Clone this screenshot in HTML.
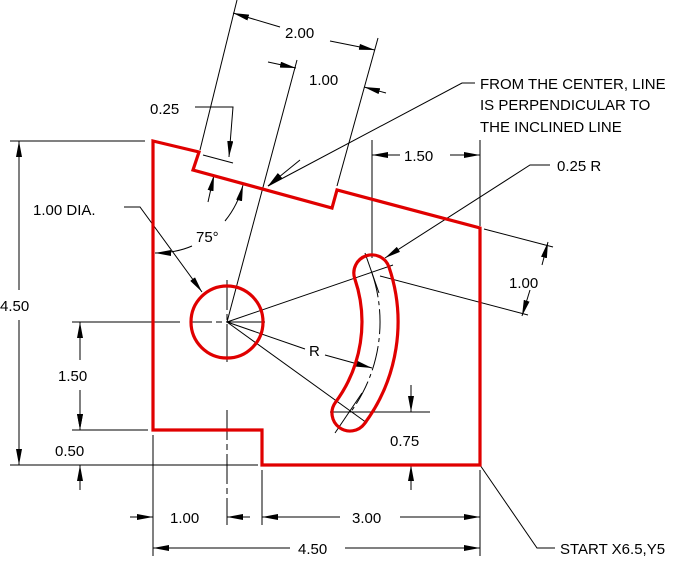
<!DOCTYPE html>
<html><head><style>html,body{margin:0;padding:0;background:#fff}svg{display:block}text{font-family:"Liberation Sans",sans-serif;font-size:15px;fill:#000}</style></head><body>
<svg width="699" height="566" viewBox="0 0 699 566" xmlns="http://www.w3.org/2000/svg">
<defs><marker id="a" viewBox="0 0 16 6" refX="16" refY="3" markerWidth="16" markerHeight="6" markerUnits="userSpaceOnUse" orient="auto-start-reverse"><path d="M0,0L16,3L0,6z" fill="#000"/></marker></defs>
<g stroke="#000" stroke-width="1" fill="none">
<!-- 4.50 left -->
<line x1="10" y1="141" x2="145" y2="141"/><line x1="10" y1="465" x2="258" y2="465"/>
<line x1="19" y1="141" x2="19" y2="290" marker-start="url(#a)"/><line x1="19" y1="320" x2="19" y2="465" marker-end="url(#a)"/>
<!-- 1.50 / 0.50 -->
<line x1="72" y1="322" x2="180" y2="322"/><line x1="72" y1="430" x2="148" y2="430"/>
<line x1="80" y1="322" x2="80" y2="360" marker-start="url(#a)"/><line x1="80" y1="390" x2="80" y2="430" marker-end="url(#a)"/>
<line x1="80" y1="415" x2="80" y2="430" marker-end="url(#a)"/><line x1="80" y1="490" x2="80" y2="465" marker-end="url(#a)"/>
<!-- bottom dims -->
<line x1="153" y1="435" x2="153" y2="556"/><line x1="227" y1="410" x2="227" y2="525" stroke-dasharray="30,4,6,4"/><line x1="262" y1="470" x2="262" y2="525"/><line x1="480" y1="470" x2="480" y2="556"/>
<line x1="130" y1="517" x2="153" y2="517" marker-end="url(#a)"/><line x1="250" y1="517" x2="227" y2="517" marker-end="url(#a)"/>
<line x1="262" y1="517" x2="340" y2="517" marker-start="url(#a)"/><line x1="400" y1="517" x2="480" y2="517" marker-end="url(#a)"/>
<line x1="153" y1="548" x2="290" y2="548" marker-start="url(#a)"/><line x1="345" y1="548" x2="480" y2="548" marker-end="url(#a)"/>
<!-- START leader -->
<polyline points="480,465 537,548 555,548"/>
<!-- top 1.50 -->
<line x1="372" y1="140" x2="372" y2="258"/><line x1="480" y1="140" x2="480" y2="226"/>
<line x1="372" y1="155" x2="400" y2="155" marker-start="url(#a)"/><line x1="450" y1="155" x2="480" y2="155" marker-end="url(#a)"/>
<!-- 0.25 R leader -->
<polyline points="550,165 530,165 385,258" marker-end="url(#a)"/>
<!-- right 1.00 -->
<line x1="380" y1="276" x2="528" y2="315"/><line x1="484" y1="229" x2="553" y2="247"/>
<line x1="548" y1="242" x2="542" y2="265" marker-start="url(#a)"/><line x1="530" y1="290" x2="522" y2="316" marker-end="url(#a)"/>
<!-- FROM leader -->
<polyline points="475,83 462,83 268,186" stroke-linejoin="miter"/>
<line x1="330" y1="130" x2="268" y2="186" marker-end="url(#a)" stroke="none"/>
<line x1="300" y1="160" x2="268" y2="186" marker-end="url(#a)"/>
<!-- 75 deg ray & dims above -->
<line x1="227" y1="322" x2="297" y2="60"/>
<line x1="200" y1="150" x2="237" y2="0"/><line x1="337" y1="186" x2="378" y2="38"/>
<line x1="280" y1="27" x2="233" y2="13" marker-end="url(#a)"/><line x1="330" y1="41" x2="375" y2="50" marker-end="url(#a)"/>
<line x1="268" y1="62" x2="296" y2="68" marker-end="url(#a)"/><line x1="386" y1="93" x2="364" y2="87" marker-end="url(#a)"/>
<!-- 0.25 -->
<polyline points="195,107 233,107 229,157" marker-end="url(#a)"/>
<line x1="203" y1="155" x2="233" y2="163"/>
<line x1="208" y1="202" x2="214" y2="175" marker-end="url(#a)"/>
<!-- 75 arcs -->
<path d="M225,221 Q238,205 243,185" marker-end="url(#a)"/>
<path d="M192,246 Q176,253 155,253" marker-end="url(#a)"/>
<!-- DIA leader -->
<polyline points="124,207 140,207 202,292" marker-end="url(#a)"/>
<!-- centerlines circle -->
<line x1="190" y1="322" x2="265" y2="322" stroke-dasharray="22,4,6,4,40"/><line x1="227" y1="280" x2="227" y2="362" stroke-dasharray="30,4,6,4,40"/>
<!-- rays -->
<line x1="227" y1="322" x2="393" y2="265"/>
<line x1="227" y1="322" x2="367" y2="423"/>
<line x1="227" y1="322" x2="305" y2="349"/><line x1="325" y1="355" x2="372" y2="368" marker-end="url(#a)"/>
<path d="M372,273 A153,153 0 0 1 350,413" stroke-dasharray="25,4,4,4"/>
<line x1="365" y1="253" x2="379" y2="293"/><line x1="335" y1="433" x2="362" y2="393"/>
<!-- 0.75 -->
<line x1="330" y1="412" x2="430" y2="412"/>
<line x1="411" y1="385" x2="411" y2="412" marker-end="url(#a)"/><line x1="411" y1="490" x2="411" y2="465" marker-end="url(#a)"/>
</g>
<g stroke="#e00000" stroke-width="3.2" fill="none" stroke-linejoin="miter">
<polygon points="153,141 199,152 193,170 332,208 337,190 480,228 480,465 262,465 262,430 153,430"/>
<circle cx="227" cy="322" r="36"/>
<path d="M389,267.1 A171,171 0 0 1 364.5,423.7 A18,18 0 0 1 335.5,402.3 A135,135 0 0 0 354.8,278.7 A18,18 0 0 1 389,267.1Z"/>
</g>
<text x="285" y="38">2.00</text>
<text x="309" y="85">1.00</text>
<text x="150" y="114">0.25</text>
<text x="480" y="89">FROM THE CENTER, LINE</text>
<text x="480" y="110">IS PERPENDICULAR TO</text>
<text x="480" y="132">THE INCLINED LINE</text>
<text x="404" y="161">1.50</text>
<text x="557" y="171">0.25 R</text>
<text x="33" y="215">1.00 DIA.</text>
<text x="196" y="242">75°</text>
<text x="509" y="288">1.00</text>
<text x="0" y="311">4.50</text>
<text x="309" y="356">R</text>
<text x="58" y="381">1.50</text>
<text x="390" y="446">0.75</text>
<text x="55" y="456">0.50</text>
<text x="170" y="523">1.00</text>
<text x="352" y="523">3.00</text>
<text x="298" y="554">4.50</text>
<text x="560" y="554">START X6.5,Y5</text>
</svg>
</body></html>
